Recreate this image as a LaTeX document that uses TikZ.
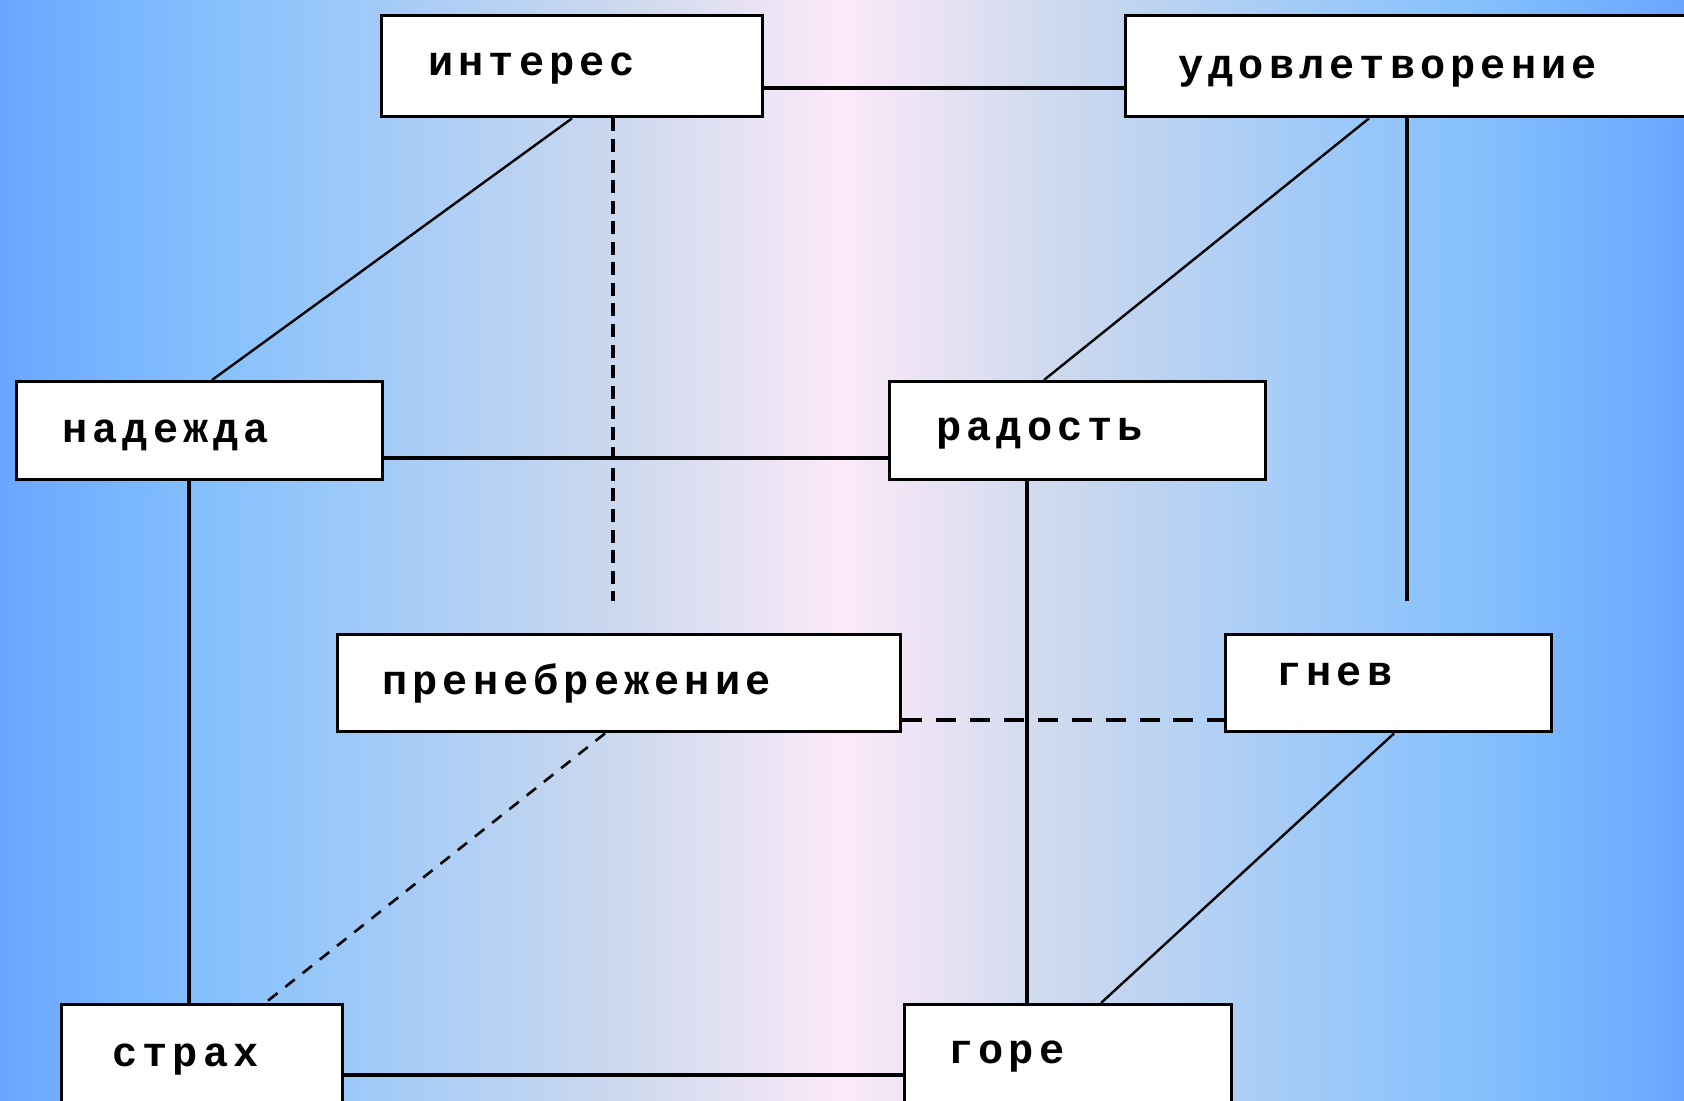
\documentclass[tikz,border=0pt]{standalone}
\usepackage{fontspec}
\newfontfamily\monofam[LetterSpace=12]{Liberation Mono}
\definecolor{cedge}{RGB}{106,166,255}
\definecolor{clight}{RGB}{134,193,253}
\definecolor{cmid}{RGB}{205,217,238}
\definecolor{ccenter}{RGB}{252,233,248}
\pgfdeclarehorizontalshading{bgshade}{100bp}{color(0bp)=(cedge); color(25bp)=(cedge); color(31.5bp)=(clight); color(43.5bp)=(cmid); color(50bp)=(ccenter); color(56.5bp)=(cmid); color(68.5bp)=(clight); color(75bp)=(cedge); color(100bp)=(cedge)}
\begin{document}
\begin{tikzpicture}[x=0.5pt,y=-0.5pt,
  box/.style={draw=black, fill=white, line width=1.7pt, rectangle, inner sep=0pt, anchor=north west},
  lbl/.style={anchor=base west, inner sep=0pt, font=\monofam\bfseries\fontsize{21}{25}\selectfont},
  conn/.style={draw=black, line width=1.6pt},
  diag/.style={draw=black, line width=1.2pt},
  vdash/.style={draw=black, line width=1.6pt, dash pattern=on 6.5pt off 3.78pt},
  hdash/.style={draw=black, line width=1.6pt, dash pattern=on 10pt off 6.94pt},
  ddash/.style={draw=black, line width=1.3pt, dash pattern=on 6pt off 5pt}]
\path[shading=bgshade] (0,0) rectangle (1684,1101);
\useasboundingbox (0,0) rectangle (1684,1101);

% boxes
\node[box, minimum width=190.5pt, minimum height=50.5pt] (bI) at (380,14) {};
\node[box, minimum width=300pt, minimum height=50.5pt] (bU) at (1124,14) {};
\node[box, minimum width=183pt, minimum height=49pt] (bN) at (15,380) {};
\node[box, minimum width=188pt, minimum height=49pt] (bR) at (888,380) {};
\node[box, minimum width=281.5pt, minimum height=48.5pt] (bP) at (336,633) {};
\node[box, minimum width=163pt, minimum height=48.5pt] (bG) at (1224,633) {};
\node[box, minimum width=140.5pt, minimum height=80pt] (bS) at (60,1003) {};
\node[box, minimum width=163.5pt, minimum height=80pt] (bO) at (903,1003) {};

% labels
\node[lbl] (tI) at (428,76) {интерес};
\node[lbl] (tU) at (1178,79) {удовлетворение};
\node[lbl] (tN) at (62,442) {надежда};
\node[lbl] (tR) at (936,440) {радость};
\node[lbl] (tP) at (382,694) {пренебрежение};
\node[lbl] (tG) at (1276,685) {гнев};
\node[lbl] (tS) at (112,1066) {страх};
\node[lbl] (tO) at (948,1063) {горе};

% free ends
\coordinate (eI) at (613,601);
\coordinate (eU) at (1407,601);

% connectors
\draw[conn] ([yshift=-37pt]bI.north east) -- ([yshift=-37pt]bU.north west);
\draw[diag] ([xshift=96pt]bI.south west) -- ([xshift=98.5pt]bN.north west);
\draw[vdash] ([xshift=116.5pt]bI.south west) -- (eI);
\draw[diag] ([xshift=122.5pt]bU.south west) -- ([xshift=78pt]bR.north west);
\draw[conn] ([xshift=141.5pt]bU.south west) -- (eU);
\draw[conn] ([yshift=-39pt]bN.north east) -- ([yshift=-39pt]bR.north west);
\draw[conn] ([xshift=87pt]bN.south west) -- ([xshift=64.5pt]bS.north west);
\draw[conn] ([xshift=69.5pt]bR.south west) -- ([xshift=62pt]bO.north west);
\draw[hdash] ([yshift=-43.5pt]bP.north east) -- ([yshift=-43.5pt]bG.north west);
\draw[ddash] ([xshift=134.5pt]bP.south west) -- ([xshift=102.5pt]bS.north west);
\draw[diag] ([xshift=85pt]bG.south west) -- ([xshift=99pt]bO.north west);
\draw[conn] ([yshift=-36pt]bS.north east) -- ([yshift=-36pt]bO.north west);
\end{tikzpicture}
\end{document}
